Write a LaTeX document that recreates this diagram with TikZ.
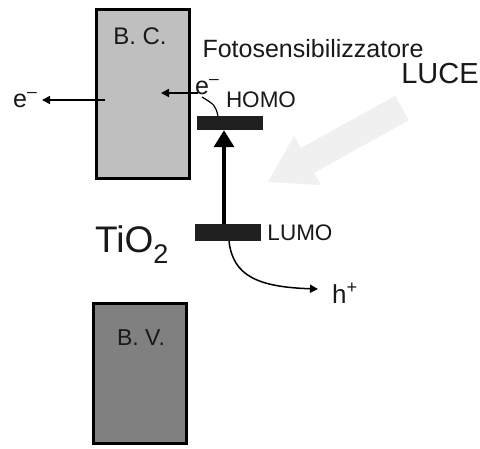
\documentclass[tikz,border=0pt]{standalone}
\usepackage{fontspec}
\setmainfont{Liberation Sans}
\usetikzlibrary{arrows.meta}
\begin{document}
\begin{tikzpicture}[x=1pt,y=-1pt,
  band/.style={draw=black,line width=3.5pt,minimum width=93pt,inner sep=0pt},
  level/.style={fill=black!88,minimum width=66pt,inner sep=0pt},
  txt/.style={inner sep=0pt,text=black!90},
  earrow/.style={line width=1.6pt,-{Triangle[length=8pt,width=8pt]}},
]
\useasboundingbox[fill=white] (0,0) rectangle (480,448);
% light arrow (LUCE)
\fill[black!6] (395.3,95.7) -- (300.8,148.1) -- (294.1,135.8) -- (268,182) -- (320.9,185) -- (314.2,172.7) -- (408.7,120.3) -- cycle;
% bands
\node[band,fill=gray!50,minimum height=169pt] (bc) at (143,94) {};
\node[band,fill=gray,minimum height=140pt] (bv) at (140,373.5) {};
\node[txt,font=\fontsize{24}{24}\selectfont] (bctxt) at (140,36) {B. C.};
\node[txt,font=\fontsize{23}{23}\selectfont] (bvtxt) at (141,338) {B. V.};
% levels
\node[level,minimum height=14pt] (homo) at (230,123) {};
\node[level,minimum height=17pt] (lumo) at (228,232.5) {};
\node[txt,font=\fontsize{22.5}{22.5}\selectfont] (homotxt) at (261,100) {HOMO};
\node[txt,font=\fontsize{22.5}{22.5}\selectfont] (lumotxt) at (300,233) {LUMO};
\node[txt,font=\fontsize{25}{25}\selectfont] (foto) at (313,49) {Fotosensibilizzatore};
\node[txt,font=\fontsize{29}{29}\selectfont] (luce) at (440,74) {LUCE};
\node[txt,font=\fontsize{37}{37}\selectfont,anchor=base west] (tio) at (95,252) {TiO\raisebox{-11pt}{\fontsize{27}{27}\selectfont 2}};
% electrons / holes
\node[txt,font=\fontsize{25}{25}\selectfont,anchor=base west] (eout) at (13,107) {e\textsuperscript{--}};
\node[txt,font=\fontsize{25}{25}\selectfont,anchor=base west] (ein) at (195,94) {e\textsuperscript{--}};
\node[txt,font=\fontsize{26}{26}\selectfont,anchor=base west] (hp) at (332,303) {h\textsuperscript{+}};
% connectors
\coordinate (eoutstart) at (105,100);
\coordinate (eouttip) at (42,100);
\draw[earrow] (eoutstart) -- (eouttip);
\coordinate (einstart) at (198,93);
\coordinate (eintip) at (161,93);
\draw[earrow] (einstart) -- (eintip);
\draw[line width=1.2pt] (homo.north -| 218,0) .. controls (215,105) .. (202,97);
\draw[line width=3.5pt,-{Triangle[length=17pt,width=20pt]}] (lumo.north -| 224,0) -- (homo.south -| 224,0);
\coordinate (htip) at (318,289);
\draw[line width=1.5pt,-{Triangle[length=8pt,width=8pt]}] (lumo.south -| 229,0) .. controls (233,276) and (258,287) .. (htip);
\end{tikzpicture}
\end{document}
